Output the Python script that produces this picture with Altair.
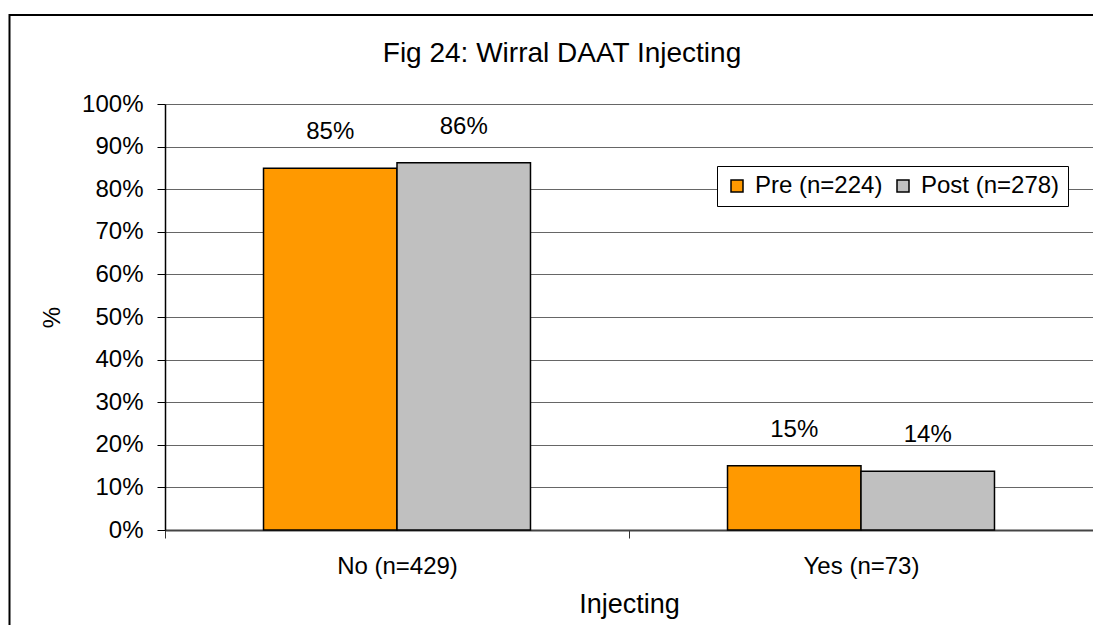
import altair as alt
import pandas as pd

categories = ["No (n=429)", "Yes (n=73)"]
periods = ["Pre (n=224)", "Post (n=278)"]
pre_values = [0.849, 0.151]
post_values = [0.862, 0.138]
y_ticks = [0, 0.1, 0.2, 0.3, 0.4, 0.5, 0.6, 0.7, 0.8, 0.9, 1.0]
colors = ["#FF9900", "#C0C0C0"]

rows = []
for i, c in enumerate(categories):
    rows.append({"cat": c, "period": periods[0], "value": pre_values[i]})
    rows.append({"cat": c, "period": periods[1], "value": post_values[i]})
df = pd.DataFrame(rows)

FONT = "Liberation Sans"

x_enc = alt.X(
    "cat:N",
    sort=categories,
    title="Injecting",
    scale=alt.Scale(paddingInner=0, paddingOuter=0),
    axis=alt.Axis(
        labelAngle=0,
        labelFontSize=24,
        labelFont=FONT,
        labelColor="black",
        labelPadding=16,
        tickSize=8,
        tickColor="#333",
        tickBand="extent",
        domainColor="#444",
        domainWidth=2,
        titleFontSize=27,
        titleFont=FONT,
        titleFontWeight="normal",
        titleColor="black",
        titlePadding=13,
    ),
)
xoff = alt.XOffset(
    "period:N", sort=periods, scale=alt.Scale(paddingInner=0, paddingOuter=0.738)
)
y_enc = alt.Y(
    "value:Q",
    scale=alt.Scale(domain=[0, 1], nice=False),
    title="%",
    axis=alt.Axis(
        values=y_ticks,
        format=".0%",
        labelFontSize=24,
        labelFont=FONT,
        labelColor="black",
        labelPadding=14,
        tickSize=8,
        tickColor="black",
        domainColor="black",
        domainWidth=1.5,
        gridColor="#666",
        gridWidth=1,
        titleFontSize=24,
        titleFont=FONT,
        titleFontWeight="normal",
        titleColor="black",
        titleX=-113,
        titleY=213,
        titleBaseline="middle",
        titleAlign="center",
    ),
)
color_enc = alt.Color(
    "period:N",
    sort=periods,
    scale=alt.Scale(domain=periods, range=colors),
    legend=alt.Legend(
        title=None,
        orient="none",
        legendX=552,
        legendY=62,
        direction="horizontal",
        fillColor="white",
        strokeColor="black",
        padding=8,
        symbolType="square",
        symbolSize=144,
        symbolStrokeColor="black",
        symbolStrokeWidth=1.5,
        labelFontSize=24,
        labelFont=FONT,
        labelColor="black",
        labelOffset=6,
        columnPadding=8,
    ),
)

base = alt.Chart(df)
bars = base.mark_bar(stroke="black", strokeWidth=1.5).encode(
    x=x_enc, xOffset=xoff, y=y_enc, color=color_enc
)
labels = base.mark_text(dy=-36, fontSize=24, font=FONT, color="black").encode(
    x=alt.X("cat:N", sort=categories),
    xOffset=alt.XOffset("period:N", sort=periods),
    y="value:Q",
    text=alt.Text("value:Q", format=".0%"),
)
frame = alt.Chart(alt.Data(values=[{"f": 1}])).mark_rect(
    fill="transparent", stroke="black", strokeWidth=2
).encode(
    x=alt.value(-155.5), x2=alt.value(1100), y=alt.value(-89), y2=alt.value(700)
)

chart = alt.layer(frame, bars, labels).properties(
    width=928,
    height=426,
    padding={"left": 157, "top": 96, "right": 0, "bottom": 95},
    autosize=alt.AutoSizeParams(type="none"),
    title=alt.TitleParams(
        "Fig 24: Wirral DAAT Injecting",
        fontSize=28,
        font=FONT,
        fontWeight="normal",
        color="black",
        anchor="middle",
        dx=-67,
        offset=-54,
    ),
).configure_view(stroke="transparent").configure(background="white")

chart.save("out.html", embed_options={"renderer": "svg", "actions": False})
